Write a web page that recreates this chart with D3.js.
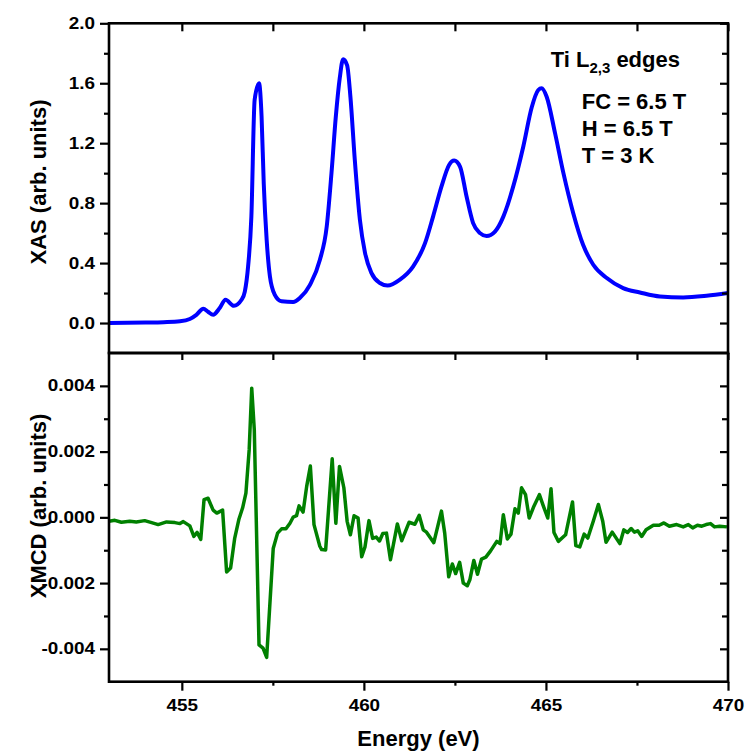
<!DOCTYPE html>
<html>
<head>
<meta charset="utf-8">
<script src="https://cdn.jsdelivr.net/npm/d3@7"></script>
<style>
  html, body { margin: 0; padding: 0; background: #fff; }
  svg { display: block; }
</style>
</head>
<body>
<svg id="chart" width="745" height="751"></svg>
<script>
// ---------- data ----------
const xasEnergy = [453.0, 454.0, 454.5, 454.95, 455.22, 455.40, 455.59, 455.72, 455.86, 456.04, 456.20, 456.43, 456.64, 456.73, 456.82, 456.91, 457.00, 457.12, 457.19, 457.25, 457.33, 457.42, 457.55, 457.74, 458.06, 458.24, 458.52, 458.79, 458.98, 459.11, 459.23, 459.34, 459.43, 459.54, 459.63, 459.75, 459.89, 460.03, 460.21, 460.44, 460.65, 460.99, 461.35, 461.68, 461.90, 462.13, 462.34, 462.48, 462.64, 462.82, 463.00, 463.19, 463.37, 463.60, 463.83, 464.10, 464.38, 464.61, 464.79, 464.88, 465.02, 465.25, 465.48, 465.75, 466.02, 466.30, 466.67, 467.12, 467.58, 468.13, 468.77, 469.41, 470.00];
const xasValue = [0.0, 0.003, 0.006, 0.012, 0.027, 0.055, 0.095, 0.075, 0.055, 0.10, 0.155, 0.115, 0.155, 0.21, 0.377, 0.71, 1.49, 1.60, 1.38, 0.93, 0.555, 0.31, 0.19, 0.145, 0.14, 0.167, 0.255, 0.42, 0.645, 1.0, 1.38, 1.64, 1.76, 1.72, 1.51, 1.09, 0.69, 0.47, 0.333, 0.267, 0.25, 0.29, 0.377, 0.533, 0.71, 0.91, 1.055, 1.084, 1.044, 0.844, 0.667, 0.60, 0.58, 0.61, 0.71, 0.91, 1.18, 1.44, 1.555, 1.567, 1.51, 1.267, 1.00, 0.733, 0.522, 0.389, 0.30, 0.233, 0.204, 0.177, 0.171, 0.182, 0.20];

const xmcdEnergy = [453.00, 453.16, 453.34, 453.57, 453.75, 453.98, 454.17, 454.35, 454.58, 454.81, 454.95, 455.04, 455.22, 455.33, 455.42, 455.52, 455.61, 455.72, 455.86, 455.96, 456.12, 456.23, 456.34, 456.45, 456.57, 456.67, 456.76, 456.85, 456.92, 456.99, 457.12, 457.23, 457.33, 457.51, 457.63, 457.74, 457.86, 457.97, 458.06, 458.15, 458.22, 458.33, 458.43, 458.53, 458.63, 458.79, 458.84, 458.95, 459.13, 459.23, 459.33, 459.45, 459.54, 459.63, 459.73, 459.84, 459.94, 460.03, 460.14, 460.24, 460.34, 460.43, 460.52, 460.62, 460.73, 460.92, 461.04, 461.24, 461.40, 461.52, 461.63, 461.72, 461.92, 462.13, 462.22, 462.33, 462.43, 462.52, 462.63, 462.73, 462.84, 462.91, 463.02, 463.12, 463.23, 463.35, 463.48, 463.65, 463.74, 463.83, 463.94, 464.04, 464.15, 464.24, 464.33, 464.44, 464.54, 464.67, 464.82, 464.93, 465.05, 465.14, 465.22, 465.34, 465.54, 465.73, 465.82, 465.93, 466.05, 466.15, 466.30, 466.44, 466.56, 466.65, 466.82, 467.03, 467.14, 467.24, 467.34, 467.43, 467.52, 467.63, 467.75, 467.95, 468.11, 468.24, 468.39, 468.59, 468.77, 468.91, 469.03, 469.16, 469.28, 469.40, 469.52, 469.63, 469.77, 469.97];
const xmcdValue = [-0.00012, -0.00009, -0.00015, -0.00012, -0.00014, -0.00010, -0.00016, -0.00022, -0.00014, -0.00016, -0.00019, -0.00013, -0.00026, -0.00058, -0.00046, -0.00067, 0.00054, 0.00058, 0.00022, 0.00013, 0.00022, -0.00166, -0.00154, -0.00065, -0.00005, 0.00029, 0.00074, 0.00206, 0.00393, 0.00267, -0.00388, -0.00398, -0.00426, -0.00095, -0.00048, -0.00035, -0.00035, -0.00018, 0.00001, 0.00005, 0.00035, 0.00016, 0.00095, 0.00156, -0.00022, -0.00088, -0.00098, -0.00099, 0.00178, -0.00018, 0.00155, 0.00090, -0.00012, -0.00053, 0.00005, -0.00002, -0.00120, -0.00090, -0.00010, -0.00064, -0.00060, -0.00072, -0.00049, -0.00048, -0.00129, -0.00020, -0.00071, -0.00015, -0.00021, 0.00006, -0.00038, -0.00045, -0.00077, 0.00019, -0.00048, -0.00181, -0.00142, -0.00171, -0.00137, -0.00200, -0.00208, -0.00190, -0.00131, -0.00173, -0.00127, -0.00121, -0.00102, -0.00073, -0.00080, 0.00008, -0.00066, -0.00051, 0.00026, 0.00013, 0.00090, 0.00069, -0.00002, 0.00034, 0.00069, 0.00034, -0.00002, 0.00087, -0.00046, -0.00073, -0.00053, 0.00047, -0.00086, -0.00090, -0.00051, -0.00063, -0.00012, 0.00039, -0.00012, -0.00076, -0.00045, -0.00080, -0.00038, -0.00046, -0.00034, -0.00045, -0.00041, -0.00058, -0.00038, -0.00024, -0.00024, -0.00017, -0.00027, -0.00022, -0.00029, -0.00022, -0.00032, -0.00024, -0.00027, -0.00022, -0.00019, -0.00029, -0.00027, -0.00029];

const xTicks = [455, 460, 465, 470];
const xMinorTicks = [457.5, 462.5, 467.5];
const xasTicks = [0.0, 0.4, 0.8, 1.2, 1.6, 2.0];
const xasMinorTicks = [0.2, 0.6, 1.0, 1.4, 1.8];
const xmcdTicks = [-0.004, -0.002, 0.0, 0.002, 0.004];
const xmcdMinorTicks = [-0.003, -0.001, 0.001, 0.003];

const xLabel = "Energy (eV)";
const xasLabel = "XAS (arb. units)";
const xmcdLabel = "XMCD (arb. units)";
const annoTitle = ["Ti L", "2,3", " edges"];
const annoLines = ["FC = 6.5 T", "H = 6.5 T", "T = 3 K"];

// ---------- layout ----------
const L = 109, R = 728, T1 = 23.3, B1 = 353, T2 = 353, B2 = 681.7;
const FONT = "'Liberation Sans', Arial, Helvetica, sans-serif";
const SX = 1.18;

const svg = d3.select("#chart");
const x = d3.scaleLinear().domain([453, 470]).range([L, R]);
const y1 = d3.scaleLinear().domain([-0.2, 2.0]).range([B1, T1]);
const y2 = d3.scaleLinear().domain([-0.005, 0.005]).range([B2, T2]);

const hyphenFmt = f => d => d3.format(f)(d).replace("\u2212", "-");

const defs = svg.append("defs");
defs.append("clipPath").attr("id", "c1").append("rect").attr("x", L).attr("y", T1).attr("width", R - L).attr("height", B1 - T1);
defs.append("clipPath").attr("id", "c2").append("rect").attr("x", L).attr("y", T2).attr("width", R - L).attr("height", B2 - T2);

// data lines
const xasData = xasEnergy.map((e, i) => [e, xasValue[i]]);
const xmcdData = xmcdEnergy.map((e, i) => [e, xmcdValue[i]]);

svg.append("path").datum(xasData)
  .attr("clip-path", "url(#c1)")
  .attr("fill", "none").attr("stroke", "#0000ff").attr("stroke-width", 4)
  .attr("stroke-linejoin", "round")
  .attr("d", d3.line().x(d => x(d[0])).y(d => y1(d[1])).curve(d3.curveMonotoneX));

svg.append("path").datum(xmcdData)
  .attr("clip-path", "url(#c2)")
  .attr("fill", "none").attr("stroke", "#008000").attr("stroke-width", 3.5)
  .attr("stroke-linejoin", "round")
  .attr("d", d3.line().x(d => x(d[0])).y(d => y2(d[1])));

// axes helper
function styleAxis(g, labels) {
  g.select(".domain").remove();
  g.attr("font-family", FONT);
  g.selectAll(".tick line").attr("stroke", "#000").attr("stroke-width", 2.2);
  if (!labels) g.selectAll(".tick text").remove();
  else g.selectAll(".tick text")
    .attr("font-size", 16).attr("font-weight", "bold").attr("fill", "#000")
    .each(function () {
      const xv = +(this.getAttribute("x") || 0);
      this.setAttribute("x", xv / SX);
      this.setAttribute("transform", `scale(${SX},1)`);
    });
}

// top panel
svg.append("g").attr("transform", `translate(${L},0)`)
  .call(d3.axisLeft(y1).tickValues(xasTicks).tickFormat(hyphenFmt(".1f")).tickSize(9).tickPadding(5))
  .call(g => styleAxis(g, true));
svg.append("g").attr("transform", `translate(${L},0)`)
  .call(d3.axisLeft(y1).tickValues(xasMinorTicks).tickSize(5))
  .call(g => styleAxis(g, false));
svg.append("g").attr("transform", `translate(${R},0)`)
  .call(d3.axisRight(y1).tickValues(xasTicks).tickSize(-8))
  .call(g => styleAxis(g, false));
svg.append("g").attr("transform", `translate(${R},0)`)
  .call(d3.axisRight(y1).tickValues(xasMinorTicks).tickSize(-6))
  .call(g => styleAxis(g, false));
svg.append("g").attr("transform", `translate(0,${T1})`)
  .call(d3.axisTop(x).tickValues(xTicks.concat(xMinorTicks)).tickSize(-8))
  .call(g => styleAxis(g, false));

// bottom panel
svg.append("g").attr("transform", `translate(${L},0)`)
  .call(d3.axisLeft(y2).tickValues(xmcdTicks).tickFormat(hyphenFmt(".3f")).tickSize(9).tickPadding(5))
  .call(g => styleAxis(g, true));
svg.append("g").attr("transform", `translate(${L},0)`)
  .call(d3.axisLeft(y2).tickValues(xmcdMinorTicks).tickSize(5))
  .call(g => styleAxis(g, false));
svg.append("g").attr("transform", `translate(${R},0)`)
  .call(d3.axisRight(y2).tickValues(xmcdTicks).tickSize(-8))
  .call(g => styleAxis(g, false));
svg.append("g").attr("transform", `translate(${R},0)`)
  .call(d3.axisRight(y2).tickValues(xmcdMinorTicks).tickSize(-6))
  .call(g => styleAxis(g, false));
svg.append("g").attr("transform", `translate(0,${T2})`)
  .call(d3.axisTop(x).tickValues(xTicks.concat(xMinorTicks)).tickSize(-7))
  .call(g => styleAxis(g, false));
svg.append("g").attr("transform", `translate(0,${B2})`)
  .call(d3.axisBottom(x).tickValues(xTicks).tickFormat(d3.format("d")).tickSize(9).tickPadding(9))
  .call(g => styleAxis(g, true));
svg.append("g").attr("transform", `translate(0,${B2})`)
  .call(d3.axisBottom(x).tickValues(xMinorTicks).tickSize(4))
  .call(g => styleAxis(g, false));

// frames
[[T1, B1], [T2, B2]].forEach(([t, b]) => {
  svg.append("rect").attr("x", L).attr("y", t).attr("width", R - L).attr("height", b - t)
    .attr("fill", "none").attr("stroke", "#000").attr("stroke-width", 2.6);
});

// titles
svg.append("text").attr("x", (L + R) / 2).attr("y", 746)
  .attr("text-anchor", "middle").attr("font-family", FONT).attr("font-weight", "bold")
  .attr("font-size", 22).text(xLabel);
svg.append("text").attr("transform", `translate(46,182) rotate(-90)`)
  .attr("text-anchor", "middle").attr("font-family", FONT).attr("font-weight", "bold")
  .attr("font-size", 22).text(xasLabel);
svg.append("text").attr("transform", `translate(46,506) rotate(-90)`)
  .attr("text-anchor", "middle").attr("font-family", FONT).attr("font-weight", "bold")
  .attr("font-size", 22).text(xmcdLabel);

// annotations
const t0 = svg.append("text").attr("x", 550.7).attr("y", 67)
  .attr("font-family", FONT).attr("font-weight", "bold").attr("font-size", 22);
t0.append("tspan").text(annoTitle[0]);
t0.append("tspan").attr("font-size", 15).attr("dy", 6).text(annoTitle[1]);
t0.append("tspan").attr("dy", -6).text(annoTitle[2]);
annoLines.forEach((s, i) => {
  svg.append("text").attr("x", 581.7).attr("y", 109 + i * 27)
    .attr("font-family", FONT).attr("font-weight", "bold").attr("font-size", 22).text(s);
});
</script>
</body>
</html>
